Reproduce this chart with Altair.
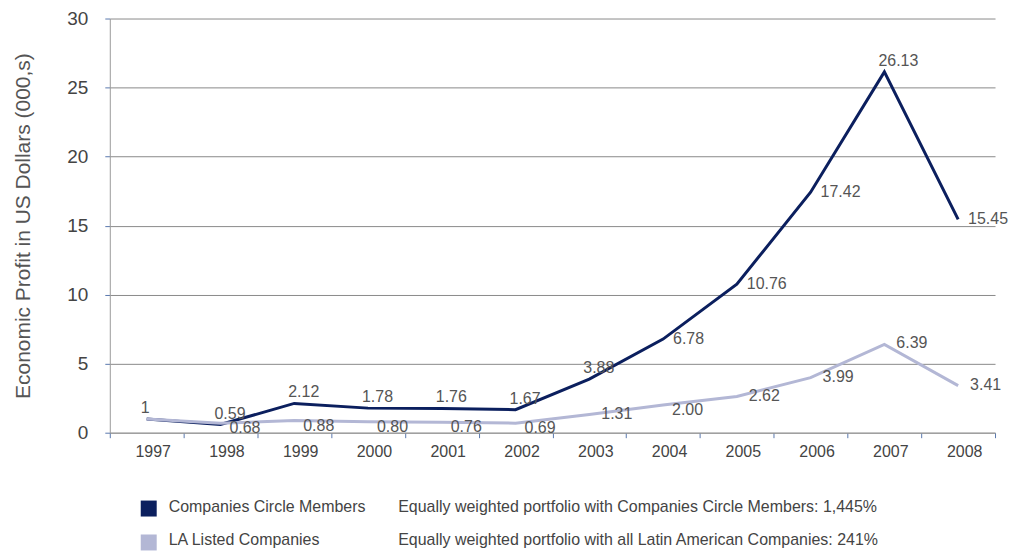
import altair as alt
import pandas as pd

years = [1997, 1998, 1999, 2000, 2001, 2002, 2003, 2004, 2005, 2006, 2007, 2008]
circle_members = [1, 0.59, 2.12, 1.78, 1.76, 1.67, 3.88, 6.78, 10.76, 17.42, 26.13, 15.45]
la_listed = [1, 0.68, 0.88, 0.80, 0.76, 0.69, 1.31, 2.00, 2.62, 3.99, 6.39, 3.41]

series = ["Companies Circle Members", "LA Listed Companies"]
descriptions = [
    "Equally weighted portfolio with Companies Circle Members: 1,445%",
    "Equally weighted portfolio with all Latin American Companies: 241%",
]
colors = ["#0b1f5e", "#b3b7d5"]
y_title = "Economic Profit in US Dollars (000,s)"

# label placement groups (style only)
dark_above = [1997, 1998, 1999, 2000, 2001, 2002, 2003, 2007]
dark_right = [2004, 2005, 2006, 2008]
light_below = [1998, 1999, 2000, 2001, 2002, 2004]
light_right = [2003, 2005, 2006, 2007, 2008]

rows = []
for y, v in zip(years, circle_members):
    rows.append({"year": y, "series": series[0], "value": v})
for y, v in zip(years, la_listed):
    rows.append({"year": y, "series": series[1], "value": v})
df = pd.DataFrame(rows)


def fmt(v, y):
    return "1" if y == 1997 else f"{v:.2f}"


df["label"] = [fmt(v, y) for v, y in zip(df["value"], df["year"])]

legend_df = pd.DataFrame({"series": series, "desc": descriptions})

FONT = "Liberation Sans"
TXT = "#555555"

color_scale = alt.Scale(domain=series, range=colors)
x_enc = alt.X(
    "year:O",
    scale=alt.Scale(type="band", paddingInner=0, paddingOuter=0),
    axis=alt.Axis(
        title=None, labelAngle=0, tickBand="extent", labelOffset=6,
        domainColor="#9a9a9a", tickColor="#5a78ae", tickSize=5,
        labelFontSize=16, labelColor="#444444", labelPadding=6,
        labelFont=FONT, grid=False,
    ),
)
y_enc = alt.Y(
    "value:Q",
    scale=alt.Scale(domain=[0, 30], nice=False),
    axis=alt.Axis(
        values=[0, 5, 10, 15, 20, 25, 30], title=y_title,
        titleFontSize=21, titleFontWeight="normal", titleColor=TXT,
        titleFont=FONT, titlePadding=33,
        labelFontSize=19, labelColor="#444444", labelFont=FONT, labelPadding=17,
        gridColor="#8a8a8a", gridWidth=1, domainColor="#9a9a9a",
        tickColor="#5a78ae", tickSize=5,
    ),
)

base = alt.Chart(df).encode(x=x_enc, y=y_enc)

lines = base.mark_line(strokeWidth=3).encode(
    color=alt.Color("series:N", scale=color_scale, legend=None),
    detail="series:N",
    order=alt.Order("series:N", sort="descending"),
)


def label_layer(s, yrs, dx, dy):
    return base.mark_text(
        align="left", baseline="middle", dx=dx, dy=dy,
        fontSize=16, font=FONT, color=TXT,
    ).encode(text="label:N").transform_filter(
        alt.FieldEqualPredicate(field="series", equal=s)
    ).transform_filter(
        alt.FieldOneOfPredicate(field="year", oneOf=yrs)
    )


labels = [
    label_layer(series[0], dark_above, -6, -11),
    label_layer(series[0], dark_right, 10, 0),
    label_layer(series[1], light_below, 9, 5),
    label_layer(series[1], light_right, 12, -1),
]

main = alt.layer(lines, *labels)

leg_y = alt.Y(
    "series:N",
    scale=alt.Scale(type="point", domain=series, range=[491, 525], padding=0),
    axis=None,
)
leg = alt.Chart(legend_df)
leg_sq = leg.mark_square(size=256, opacity=1).encode(
    x=alt.value(39), y=leg_y,
    color=alt.Color("series:N", scale=color_scale, legend=None),
)
leg_tx = leg.mark_text(align="left", baseline="middle", dy=-2, fontSize=16,
                       font=FONT, color="#444444").encode(
    x=alt.value(59), y=leg_y, text="series:N")
leg_desc = leg.mark_text(align="left", baseline="middle", dy=-2, fontSize=16,
                         font=FONT, color="#444444").encode(
    x=alt.value(289), y=leg_y, text="desc:N")
legend = alt.layer(leg_sq, leg_tx, leg_desc)

chart = alt.layer(main, legend).resolve_scale(y="independent").properties(
    width=887, height=415,
    autosize=alt.AutoSizeParams(type="none"),
    padding={"left": 102, "top": 10, "right": 14, "bottom": 120},
    background="white",
).configure_view(stroke=None)

chart.save("out.html", embed_options={"renderer": "svg", "actions": False})
